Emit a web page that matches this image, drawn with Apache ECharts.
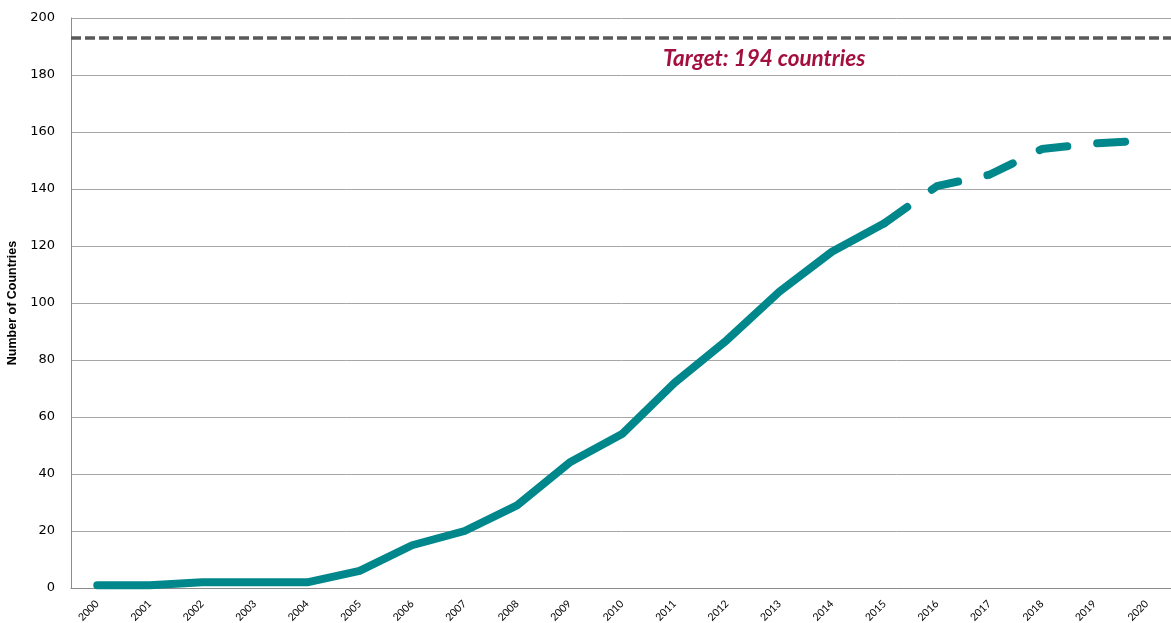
<!DOCTYPE html>
<html>
<head>
<meta charset="utf-8">
<script src="https://cdn.jsdelivr.net/npm/echarts@6/dist/echarts.min.js"></script>
<style>
html,body{margin:0;padding:0;background:#fff;}
#chart{width:1171px;height:623px;}
</style>
</head>
<body>
<div id="chart"></div>
<script>
var years = ['2000','2001','2002','2003','2004','2005','2006','2007','2008','2009','2010','2011','2012','2013','2014','2015','2016','2017','2018','2019','2020'];
var actual = [1,1,2,2,2,6,15,20,29,44,54,72,87,104,118,128,null,null,null,null,null];
var projected = [null,null,null,null,null,null,null,null,null,null,null,null,null,null,null,128,141,145,154,156,157];
var targetValue = 193;
var targetLabel = 'Target: 194 countries';
var yAxisName = 'Number of Countries';

var chart = echarts.init(document.getElementById('chart'));
var teal = '#00878c';
chart.setOption({
  animation: false,
  grid: {left: 71, right: -2, top: 18, bottom: 35, containLabel: false, outerBoundsMode: 'none'},
  xAxis: {
    type: 'category',
    data: years,
    boundaryGap: true,
    axisLine: {show: true, lineStyle: {color: '#8c8c8c', width: 1}},
    axisTick: {show: false},
    axisLabel: {rotate: 45, margin: 14, fontFamily: 'Lato', fontSize: 10.5, color: '#000', interval: 0}
  },
  yAxis: {
    type: 'value',
    min: 0, max: 200, interval: 20,
    name: yAxisName,
    nameLocation: 'middle',
    nameGap: 47,
    nameTextStyle: {fontFamily: 'Liberation Sans', fontWeight: 'bold', fontSize: 12.5, color: '#000'},
    axisLine: {show: true, lineStyle: {color: '#8c8c8c', width: 1}},
    axisTick: {show: false},
    axisLabel: {fontFamily: 'DejaVu Sans', fontSize: 13, color: '#000', margin: 16},
    splitLine: {show: true, lineStyle: {color: '#a6a6a6', width: 1}}
  },
  series: [
    {
      type: 'line',
      data: actual,
      symbol: 'none',
      lineStyle: {color: teal, width: 8, cap: 'round', join: 'round'},
      markLine: {
        silent: true,
        symbol: 'none',
        label: {show: false},
        lineStyle: {color: '#595959', width: 3.5, type: [10, 4]},
        data: [{yAxis: targetValue}]
      },
      z: 3
    },
    {
      type: 'line',
      data: projected,
      symbol: 'none',
      lineStyle: {color: teal, width: 8, cap: 'round', join: 'round', type: [28, 30]},
      z: 3
    }
  ],
  graphic: [{
    type: 'text',
    left: 663,
    top: 47,
    style: {text: targetLabel, fill: '#a3103f', font: 'italic bold 22.5px Lato'}
  }]
});
</script>
</body>
</html>
